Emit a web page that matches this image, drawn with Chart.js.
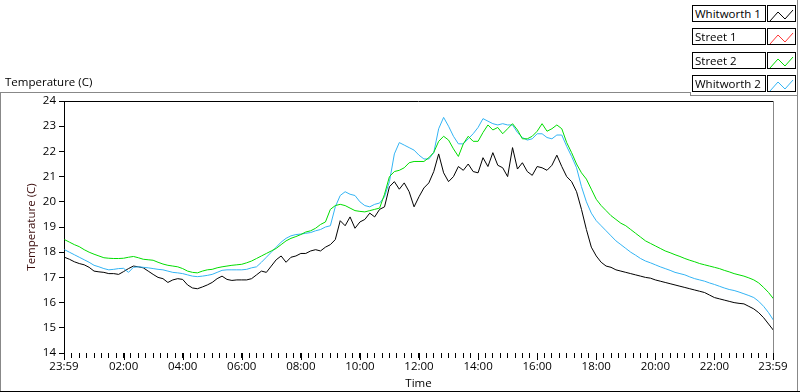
<!DOCTYPE html>
<html>
<head>
<meta charset="utf-8">
<script src="https://cdn.jsdelivr.net/npm/chart.js@4.4.1/dist/chart.umd.min.js"></script>
<style>
html,body{margin:0;padding:0;background:#fff;}
body{width:800px;height:392px;position:relative;overflow:hidden;font-family:"Open Sans",sans-serif;}
#wrap{position:absolute;left:0;top:0;width:800px;height:392px;}
.line{position:absolute;}
.lbl{position:absolute;font-size:11.5px;color:#000;white-space:nowrap;}
.lgbox{position:absolute;left:692px;width:70px;height:15px;border:1px solid #000;background:#fff;font-size:11.5px;line-height:15px;padding-left:2px;box-sizing:content-box;white-space:nowrap;overflow:hidden;}
.swbox{position:absolute;left:767px;width:27px;height:15px;border:1px solid #000;background:#fff;}
</style>
</head>
<body>
<div id="wrap"><canvas id="c" width="800" height="392"></canvas></div>
<div class="line" style="left:0;top:92px;width:691px;height:1px;background:#888"></div>
<div class="line" style="left:690px;top:92px;width:1px;height:4px;background:#888"></div>
<div class="line" style="left:690px;top:95px;width:108px;height:1px;background:#888"></div>
<div class="line" style="left:0;top:92px;width:1px;height:300px;background:#888"></div>
<div class="line" style="left:797px;top:0;width:1px;height:392px;background:#888"></div>
<div class="line" style="left:0;top:391px;width:800px;height:1px;background:#000"></div>
<div class="lbl" style="left:5px;top:74px;">Temperature (C)</div>
<div id="legend"></div>
<script>
// ---- data (minutes after 00:00, 10-minute samples) ----
const SERIES_NAMES = ["Whitworth 1", "Street 1", "Street 2", "Whitworth 2"];
const SERIES_COLORS = ["#000000", "#ff3333", "#00dd00", "#33b4f4"];

const whitworth1 = [
17.80,17.72,17.62,17.55,17.50,17.40,
17.25,17.22,17.20,17.15,17.15,17.12,
17.23,17.35,17.45,17.42,17.38,17.25,
17.12,17.00,16.95,16.80,16.90,16.95,
16.92,16.70,16.58,16.55,16.62,16.70,
16.80,16.95,17.05,16.92,16.88,16.90,
16.90,16.90,16.95,17.10,17.25,17.20,
17.45,17.70,17.85,17.60,17.80,17.85,
17.95,17.95,18.05,18.10,18.05,18.20,
18.30,18.50,19.25,19.05,19.40,18.95,
19.20,19.30,19.55,19.40,19.70,19.80,
20.60,20.80,20.50,20.75,20.40,19.80,
20.20,20.55,20.75,21.20,21.90,21.15,
20.80,21.00,21.40,21.25,21.50,21.20,
21.15,21.75,21.40,21.95,21.45,21.35,
21.00,22.15,21.30,21.55,21.20,21.05,
21.40,21.35,21.25,21.45,21.85,21.40,
21.00,20.80,20.40,19.70,18.90,18.20,
17.85,17.60,17.45,17.40,17.30,17.25,
17.20,17.15,17.10,17.05,17.00,16.97,
16.90,16.85,16.80,16.75,16.70,16.65,
16.60,16.55,16.50,16.45,16.40,16.30,
16.20,16.15,16.10,16.05,16.00,15.97,
15.95,15.85,15.75,15.60,15.40,15.15,
14.90];

const street1 = [];

const street2 = [
18.50,18.40,18.30,18.22,18.10,18.00,
17.92,17.85,17.78,17.76,17.75,17.75,
17.76,17.80,17.83,17.78,17.72,17.70,
17.68,17.60,17.53,17.48,17.45,17.42,
17.35,17.25,17.20,17.18,17.25,17.30,
17.32,17.38,17.42,17.45,17.48,17.50,
17.52,17.58,17.65,17.75,17.85,17.95,
18.05,18.15,18.30,18.45,18.55,18.62,
18.70,18.80,18.85,18.95,19.10,19.20,
19.70,19.85,19.90,19.85,19.75,19.65,
19.62,19.60,19.65,19.70,19.75,20.30,
21.00,21.20,21.25,21.35,21.55,21.60,
21.60,21.60,21.75,21.96,22.40,22.60,
22.45,22.10,21.80,22.30,22.60,22.40,
22.40,22.75,23.05,22.85,22.95,22.70,
22.90,23.10,22.85,22.50,22.50,22.60,
22.80,23.10,22.80,22.90,23.05,22.90,
22.35,21.95,21.50,21.15,20.90,20.50,
20.10,19.85,19.65,19.45,19.30,19.15,
19.05,18.90,18.75,18.60,18.45,18.35,
18.25,18.15,18.05,17.98,17.90,17.83,
17.75,17.68,17.62,17.55,17.50,17.45,
17.40,17.35,17.28,17.22,17.15,17.10,
17.05,16.98,16.90,16.78,16.60,16.40,
16.15];

const whitworth2 = [
18.10,18.00,17.90,17.80,17.70,17.60,
17.48,17.42,17.35,17.30,17.32,17.35,
17.36,17.20,17.40,17.42,17.40,17.38,
17.35,17.32,17.30,17.25,17.20,17.18,
17.15,17.10,17.05,17.03,17.05,17.08,
17.12,17.20,17.28,17.30,17.30,17.30,
17.30,17.32,17.38,17.42,17.60,17.80,
18.00,18.20,18.40,18.55,18.65,18.70,
18.72,18.75,18.78,18.85,18.90,19.00,
19.05,19.80,20.25,20.40,20.30,20.25,
20.00,19.85,19.80,19.90,19.95,20.20,
20.80,21.90,22.35,22.25,22.15,22.05,
21.85,21.70,21.70,21.95,22.90,23.35,
23.00,22.60,22.30,22.30,22.50,22.70,
22.95,23.30,23.20,23.10,23.05,23.10,
23.05,23.05,22.75,22.55,22.45,22.50,
22.70,22.70,22.55,22.50,22.65,22.65,
22.20,21.80,21.35,20.60,20.00,19.55,
19.25,19.05,18.85,18.65,18.45,18.30,
18.15,18.00,17.88,17.75,17.65,17.58,
17.50,17.42,17.35,17.28,17.20,17.15,
17.10,17.02,16.95,16.90,16.85,16.78,
16.72,16.65,16.58,16.52,16.48,16.42,
16.35,16.28,16.20,16.05,15.85,15.60,
15.30];

// sample times in minutes after midnight (10-minute steps)
const SAMPLE_STEP_MIN = 10;
const times = whitworth1.map((_, i) => i * SAMPLE_STEP_MIN);

const X_MIN = -1, X_MAX = 1439;              // 23:59 .. 23:59
const MAJOR_TICKS = [-1,120,240,360,480,600,720,840,960,1080,1200,1320,1439];
const MAJOR_LABELS = ["23:59","02:00","04:00","06:00","08:00","10:00","12:00","14:00","16:00","18:00","20:00","22:00","23:59"];
const MINOR_STEP = 15;
const Y_MIN = 14, Y_MAX = 24;
const FONT = {family: 'Open Sans', size: 11.5};

// ---- legend (HTML) ----
const legend = document.getElementById('legend');
const rowTops = [5, 28, 52, 75];
SERIES_NAMES.forEach((n, i) => {
  const b = document.createElement('div');
  b.className = 'lgbox'; b.style.top = rowTops[i] + 'px'; b.textContent = n;
  legend.appendChild(b);
  const s = document.createElement('div');
  s.className = 'swbox'; s.style.top = rowTops[i] + 'px';
  s.innerHTML = '<svg width="27" height="15"><polyline points="2,13 10,4 17,11 25,2" fill="none" stroke="' + SERIES_COLORS[i] + '" stroke-width="1"/></svg>';
  legend.appendChild(s);
});

const toPts = arr => arr.map((v, i) => ({x: times[i], y: v}));
const dataSets = [whitworth1, street1, street2, whitworth2];
const drawOrder = [1, 2, 3, 0]; // black on top

const frame = {
  id: 'frame',
  afterDraw(chart) {
    const {ctx, chartArea: a} = chart;
    ctx.save();
    ctx.strokeStyle = '#000'; ctx.lineWidth = 1;
    ctx.beginPath(); ctx.moveTo(a.left, a.top + 0.5); ctx.lineTo(a.right, a.top + 0.5); ctx.stroke();
    ctx.strokeStyle = '#888';
    ctx.beginPath(); ctx.moveTo(a.right + 0.5, a.top); ctx.lineTo(a.right + 0.5, a.bottom); ctx.stroke();
    // longer marks for the labelled (major) time ticks
    const xs = chart.scales.x;
    ctx.strokeStyle = '#000';
    MAJOR_TICKS.forEach(v => {
      const px = Math.round(xs.getPixelForValue(v)) + 0.5;
      ctx.beginPath(); ctx.moveTo(px, a.bottom); ctx.lineTo(px, a.bottom + 7); ctx.stroke();
    });
    ctx.restore();
  }
};

new Chart(document.getElementById('c'), {
  type: 'line',
  data: {
    datasets: drawOrder.map(k => ({
      label: SERIES_NAMES[k],
      data: toPts(dataSets[k]),
      borderColor: SERIES_COLORS[k],
      borderWidth: 1,
      pointRadius: 0,
      tension: 0,
      fill: false
    }))
  },
  options: {
    responsive: false,
    animation: false,
    events: [],
    layout: {padding: {top: 101, right: 27, left: 0, bottom: 0}},
    plugins: {legend: {display: false}, tooltip: {enabled: false}},
    scales: {
      x: {
        type: 'linear', min: X_MIN, max: X_MAX,
        afterBuildTicks(s) {
          const t = [];
          MAJOR_TICKS.forEach(v => t.push({value: v}));
          for (let m = MINOR_STEP; m < X_MAX; m += MINOR_STEP) if (m % 120 !== 0) t.push({value: m});
          t.sort((a, b) => a.value - b.value);
          s.ticks = t;
        },
        afterFit(s) { s.height = 39; },
        grid: {drawOnChartArea: false, drawTicks: true, tickLength: 5, tickColor: '#000', lineWidth: 1},
        border: {display: false},
        ticks: {
          autoSkip: false, maxRotation: 0, padding: 2, color: '#000', font: FONT,
          callback(v) { const i = MAJOR_TICKS.indexOf(v); return i >= 0 ? MAJOR_LABELS[i] : ''; }
        },
        title: {display: true, text: 'Time', color: '#000', font: FONT, padding: {top: 0, bottom: 1}}
      },
      y: {
        min: Y_MIN, max: Y_MAX,
        afterFit(s) { s.width = 64; },
        grid: {drawOnChartArea: false, drawTicks: true, tickLength: 5, tickColor: '#000'},
        border: {display: true, color: '#000', width: 1},
        ticks: {stepSize: 1, padding: 3, color: '#000', font: FONT},
        title: {display: true, text: 'Temperature (C)', color: '#3a0c0c', font: FONT, padding: {top: 25, bottom: 0}}
      }
    }
  },
  plugins: [frame]
});
</script>
</body>
</html>
